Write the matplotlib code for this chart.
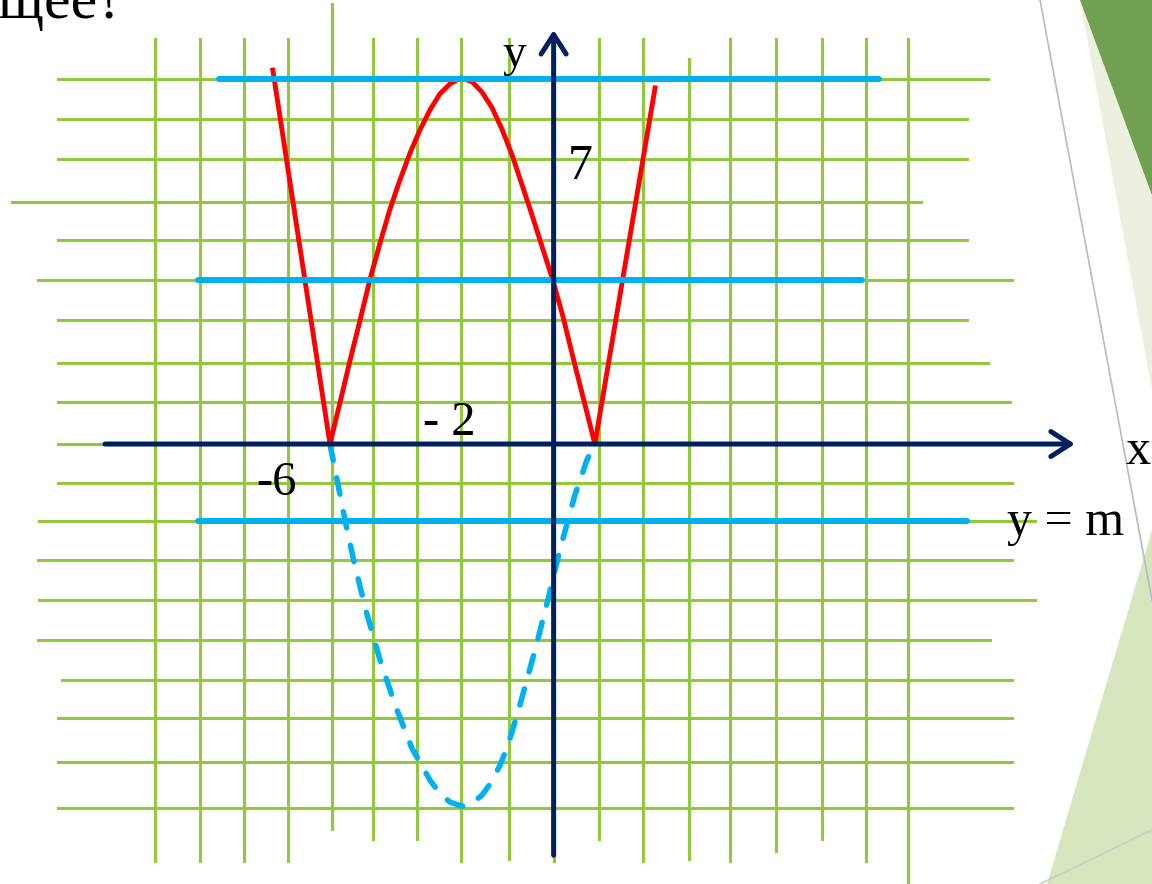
import matplotlib
matplotlib.use("Agg")
from matplotlib import pyplot as plt
from matplotlib.patches import Polygon

# сетка (в клетках)
vgrid_x = [-9.0, -7.99, -6.99, -6.0, -5.01, -4.08, -3.09, -2.09, -1.01, 0.0,
           1.02, 2.02, 3.06, 3.98, 5.02, 6.06, 7.05, 8.0]
vgrid_top = [10.0, 10.0, 10.0, 10.0, 10.85, 10.0, 10.0, 10.0, 10.0, 10.0,
             10.0, 10.0, 9.5, 10.0, 10.0, 10.0, 10.0, 10.0]
vgrid_bottom = [-10.3, -10.3, -10.3, -10.3, -9.5, -9.75, -9.75, -10.3, -10.25, -10.3,
                -9.75, -10.3, -10.25, -10.3, -10.05, -9.75, -10.3, -10.85]

hgrid_y = [9.01, 8.02, 7.04, 5.98, 5.04, 4.05, 3.06, 2.0, 1.04, 0.0,
           -0.96, -1.9, -2.86, -3.85, -4.84, -5.83, -6.77, -7.85, -8.99]
hgrid_left = [-11.19, -11.19, -11.19, -12.23, -11.19, -11.64, -11.19, -11.19, -11.19, -11.19,
              -11.19, -11.62, -11.64, -11.62, -11.64, -11.10, -11.19, -11.19, -11.19]
hgrid_right = [9.80, 9.33, 9.33, 8.29, 9.33, 10.34, 9.33, 9.80, 10.30, 10.07,
               10.34, 10.86, 10.34, 10.86, 9.85, 10.34, 10.34, 10.34, 10.34]

# график y = |f(x)|
red_x = [-6.34, -5.05, -4.82, -4.60, -4.37, -4.15, -3.92, -3.70, -3.47, -3.24, -3.02,
         -2.79, -2.57, -2.34, -2.09, -1.84, -1.62, -1.39, -1.17, -0.94, -0.72,
         -0.49, -0.26, -0.02, 0.21, 0.48, 0.71, 0.93, 2.29]
red_y = [9.23, 0.0, 1.04, 2.05, 3.06, 4.05, 4.96, 5.78, 6.52, 7.19, 7.75,
         8.25, 8.64, 8.89, 9.04, 8.94, 8.69, 8.30, 7.78, 7.14, 6.42,
         5.66, 4.87, 4.05, 3.15, 1.95, 0.96, 0.0, 8.79]

# отражённая часть (пунктир)
dash_x = [-5.05, -4.91, -4.71, -4.49, -4.24, -3.92, -3.58, -3.20, -2.97, -2.79, -2.57,
          -2.34, -2.07, -1.84, -1.62, -1.44, -1.21, -1.03, -0.76, -0.42, -0.13,
          0.14, 0.48, 0.75, 0.93]
dash_y = [0.0, -0.77, -1.88, -2.99, -4.10, -5.33, -6.44, -7.51, -7.95, -8.30, -8.62,
          -8.84, -8.94, -8.86, -8.67, -8.40, -7.93, -7.43, -6.44, -5.09, -3.85,
          -2.62, -1.26, -0.40, 0.0]

# прямые y = m
m_values = [9.0, 4.05, -1.9]
m_left = [-7.55, -8.02, -8.02]
m_right = [7.35, 6.96, 9.33]

green = '#92C83C'
blue = '#00B0F0'
navy = '#002060'

fig = plt.figure(figsize=(11.52, 8.84), dpi=100)
ax = fig.add_axes([0, 0, 1, 1])
ax.set_xlim(-12.50, 13.51)
ax.set_ylim(-10.86, 10.96)
ax.axis('off')

# фон слайда справа
ax.add_patch(Polygon([(1080/1152, 1), (1, 1), (1, 1 - 390/884)], closed=True,
                     transform=ax.transAxes, facecolor='#EBF1DE', edgecolor='none', zorder=0))
ax.add_patch(Polygon([(1080/1152, 1), (1, 1), (1, 1 - 195/884)], closed=True,
                     transform=ax.transAxes, facecolor='#70A050', edgecolor='none', zorder=0))
ax.add_patch(Polygon([(1047/1152, 0), (1, 1 - 530/884), (1, 0)], closed=True,
                     transform=ax.transAxes, facecolor='#D8E6C0', edgecolor='none', zorder=0))
ax.plot([1040/1152, 1], [1, 1 - 600/884], transform=ax.transAxes, color='#BBBBBB', lw=1.2, zorder=0)
ax.plot([1040/1152, 1], [0, 54/884], transform=ax.transAxes, color='#C8D2BC', lw=1.2, zorder=0)

for x, t, b in zip(vgrid_x, vgrid_top, vgrid_bottom):
    ax.plot([x, x], [b, t], color=green, lw=2.2, zorder=1)
for y, l, r in zip(hgrid_y, hgrid_left, hgrid_right):
    ax.plot([l, r], [y, y], color=green, lw=2.2, zorder=1)

ax.plot(dash_x, dash_y, color=blue, lw=4.0, dashes=(3, 3.2), dash_capstyle='round', zorder=2)
ax.plot(red_x, red_y, color='#FF0000', lw=3.5, zorder=3)

for y, l, r in zip(m_values, m_left, m_right):
    ax.plot([l, r], [y, y], color=blue, lw=4.3, solid_capstyle='round', zorder=4)

# оси
arrow = dict(arrowstyle='->,head_length=0.7,head_width=0.45', lw=3.6, color=navy,
             mutation_scale=20, shrinkA=0, shrinkB=0)
ax.annotate('', xy=(11.77, 0), xytext=(-10.13, 0), arrowprops=arrow, zorder=5)
ax.annotate('', xy=(0, 10.22), xytext=(0, -10.15), arrowprops=arrow, zorder=5)

font = ['Liberation Serif', 'DejaVu Serif']
ax.text(-0.88, 9.6, 'y', fontsize=34, family=font, ha='center', va='center', zorder=6)
ax.text(0.6, 6.85, '7', fontsize=36, family=font, ha='center', va='center', zorder=6)
ax.text(-2.35, 0.52, '- 2', fontsize=35, family=font, ha='center', va='center', zorder=6)
ax.text(-6.25, -0.95, '-6', fontsize=35, family=font, ha='center', va='center', zorder=6)
ax.text(13.2, -0.2, 'x', fontsize=36, family=font, ha='center', va='center', zorder=6)
ax.text(11.55, -1.95, 'y = m', fontsize=36, family=font, ha='center', va='center', zorder=6)
ax.text(-9.7, 10.52, 'щее?', fontsize=43, family=font, ha='right', va='baseline', zorder=6)

fig.savefig('out.png', dpi=100)
